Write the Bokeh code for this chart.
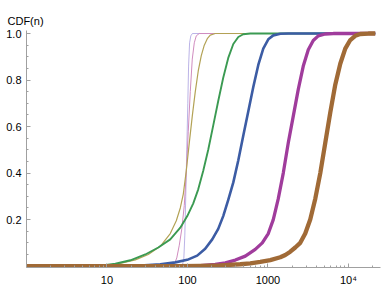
from bokeh.plotting import figure
from bokeh.models import FixedTicker, CustomJSTickFormatter
from bokeh.embed import file_html
from bokeh.resources import INLINE

# ---- data (n, CDF(n)) ----
lavender_n = [1, 86, 90, 92.6, 95.2, 98, 100.9, 103.2, 106.2, 110, 115, 21500]
lavender_cdf = [0, 0, 0.03, 0.13, 0.3, 0.5, 0.7, 0.86, 0.96, 0.99, 1, 1]

pink_n = [1, 63, 68.5, 73.6, 79.1, 85, 91.2, 96.6, 102.3, 108.3, 114.7, 121.5, 128.6, 140, 21500]
pink_cdf = [0, 0, 0.008, 0.035, 0.09, 0.16, 0.26, 0.4, 0.58, 0.75, 0.89, 0.96, 0.99, 1, 1]

olive_n = [1, 9.5, 14.6, 22.5, 32.6, 45.9, 61.1, 72.6, 81.4, 88.7, 96.6, 105.3, 114.7, 125,
           136.2, 148.4, 161.7, 176.2, 192, 221, 21500]
olive_cdf = [0, 0.002, 0.012, 0.027, 0.05, 0.085, 0.14, 0.195, 0.25, 0.31, 0.41, 0.53, 0.645, 0.75,
             0.84, 0.905, 0.95, 0.978, 0.993, 1, 1]

green_n = [1, 8.3, 12.7, 19.5, 29.9, 43.4, 61.1, 81.4, 99.4, 118, 136, 157, 181, 209, 241, 278,
           321, 371, 428, 493, 603, 21500]
green_cdf = [0, 0.002, 0.01, 0.025, 0.05, 0.08, 0.115, 0.165, 0.215, 0.27, 0.33, 0.41, 0.5, 0.605,
             0.71, 0.81, 0.895, 0.955, 0.985, 0.997, 1, 1]

blue_n = [1, 25.9, 45.9, 70.5, 99.4, 132, 166, 203, 241, 278, 321, 371, 428, 493, 569, 657, 758,
          874, 1009, 1164, 1422, 1788, 21500]
blue_cdf = [0, 0.002, 0.008, 0.016, 0.027, 0.045, 0.075, 0.115, 0.16, 0.215, 0.285, 0.36, 0.455,
            0.56, 0.665, 0.77, 0.865, 0.935, 0.975, 0.992, 0.999, 1, 1]

magenta_n = [1, 144, 221, 295, 393, 523, 695, 850, 1009, 1164, 1343, 1549, 1788, 2062, 2379, 2745,
             3167, 3653, 4215, 5150, 6475, 21500]
magenta_cdf = [0, 0.002, 0.007, 0.014, 0.026, 0.043, 0.072, 0.1, 0.14, 0.2, 0.29, 0.4, 0.53, 0.645,
               0.76, 0.86, 0.93, 0.97, 0.99, 0.998, 1, 1]

brown_n = [1, 81, 144, 255, 453, 603, 802, 1068, 1422, 1641, 1892, 2183, 2518, 2904, 3350, 3870,
           4465, 5150, 5940, 6855, 7910, 9125, 10530, 12140, 14010, 17620, 21500]
brown_cdf = [0, 0, 0.001, 0.003, 0.008, 0.012, 0.018, 0.026, 0.038, 0.048, 0.062, 0.08, 0.10, 0.14,
             0.20, 0.29, 0.40, 0.53, 0.66, 0.78, 0.87, 0.935, 0.972, 0.99, 0.998, 1, 1]

x_major_ticks = [10, 100, 1000, 10000]
x_minor_ticks = [k * 10 ** d for d in range(0, 5) for k in range(2, 10) if k * 10 ** d <= 25000]
y_major_ticks = [0.2, 0.4, 0.6, 0.8, 1.0]
y_minor_ticks = [round(0.05 * i, 2) for i in range(1, 21) if i % 4 != 0]

series = [
    (lavender_n, lavender_cdf, "#a9a0e0", 0.8),
    (pink_n, pink_cdf, "#d08cbf", 1.0),
    (olive_n, olive_cdf, "#b3a255", 1.2),
    (green_n, green_cdf, "#3b9a52", 1.9),
    (blue_n, blue_cdf, "#3c5ca4", 2.6),
    (magenta_n, magenta_cdf, "#a03c9c", 3.3),
    (brown_n, brown_cdf, "#a06a36", 4.3),
]

p = figure(width=388, height=291, x_axis_type="log",
           x_range=(1, 25000), y_range=(-0.006, 1.013),
           output_backend="svg", toolbar_location=None,
           min_border_left=26, min_border_right=8, min_border_top=30, min_border_bottom=24,
           title="CDF(n)")

for xs, ys, c, w in series:
    p.line(xs, ys, line_color=c, line_width=w, line_join="round")

p.title.text_font = "Liberation Sans"
p.title.text_font_size = "11px"
p.title.text_font_style = "normal"
p.title.text_color = "#000000"
p.title.align = "left"
p.title.offset = -19
p.title.standoff = 8

p.xgrid.visible = False
p.ygrid.visible = False
p.outline_line_color = None

p.xaxis.ticker = FixedTicker(ticks=x_major_ticks, minor_ticks=x_minor_ticks)
p.xaxis.formatter = CustomJSTickFormatter(code="return tick >= 10000 ? '10\u2074' : String(tick);")
p.yaxis.ticker = FixedTicker(ticks=y_major_ticks, minor_ticks=y_minor_ticks)
p.yaxis.formatter = CustomJSTickFormatter(code="return tick.toFixed(1);")

for ax in (p.xaxis, p.yaxis):
    ax.axis_line_color = "#a0a0a0"
    ax.major_tick_line_color = "#a0a0a0"
    ax.minor_tick_line_color = "#a0a0a0"
    ax.major_tick_in = 4
    ax.major_tick_out = 0
    ax.minor_tick_in = 2
    ax.minor_tick_out = 0
    ax.major_label_text_font = "Liberation Sans"
    ax.major_label_text_font_size = "11px"
    ax.major_label_text_color = "#000000"

p.yaxis.major_label_standoff = 5
p.xaxis.major_label_standoff = 6

open("out.html", "w").write(file_html(p, INLINE))
